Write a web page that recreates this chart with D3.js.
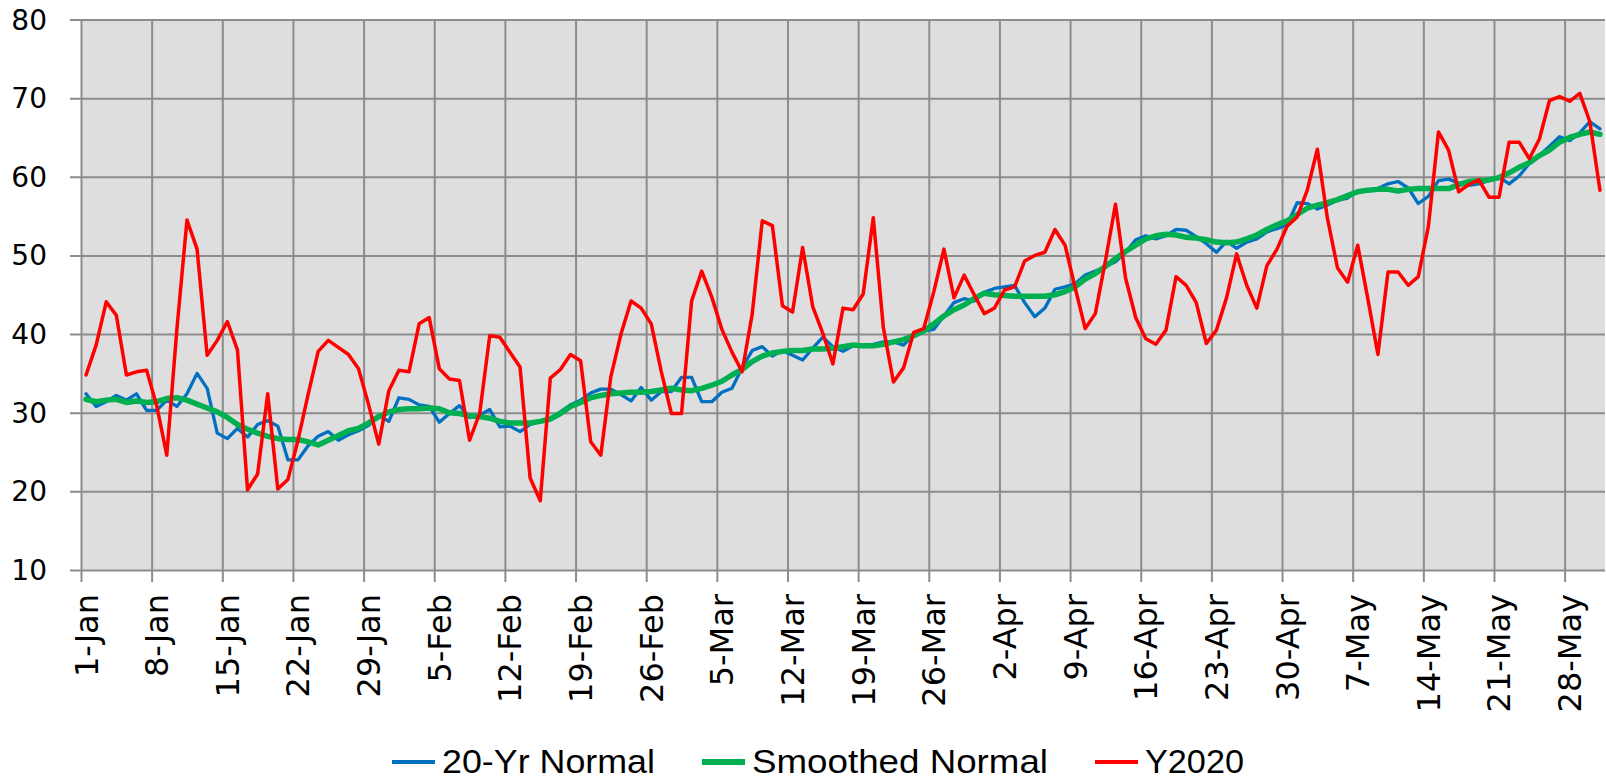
<!DOCTYPE html>
<html>
<head>
<meta charset="utf-8">
<script src="https://cdn.jsdelivr.net/npm/d3@7"></script>
<style>
  body { margin: 0; background: #fff; }
  svg { display: block; }
</style>
</head>
<body>
<svg id="chart"></svg>
<script>
// daily values, 1-Jan .. 31-May
const normal20 = [
  32.4, 30.8, 31.4, 32.2, 31.6, 32.4, 30.3, 30.3, 31.6, 30.8, 32.4, 35.0, 33.1, 27.4, 26.7, 28.0, 26.9, 28.5, 29.0, 28.3,
  24.0, 24.0, 25.8, 27.0, 27.6, 26.5, 27.2, 27.7, 28.4, 29.7, 28.9, 31.9, 31.7, 31.0, 30.8, 28.8, 29.9, 30.9, 29.4, 29.7,
  30.4, 28.2, 28.3, 27.6, 28.5, 28.9, 29.3, 30.1, 31.0, 31.6, 32.5, 33.0, 33.0, 32.3, 31.5, 33.2, 31.6, 32.7, 32.7, 34.5,
  34.5, 31.4, 31.4, 32.6, 33.1, 35.7, 37.9, 38.4, 37.2, 37.9, 37.3, 36.7, 38.2, 39.6, 38.4, 37.8, 38.5, 38.4, 38.7, 39.0,
  39.0, 38.6, 39.9, 40.4, 40.6, 42.3, 44.0, 44.5, 44.2, 45.3, 45.8, 46.0, 46.2, 44.0, 42.2, 43.3, 45.7, 46.0, 46.4, 47.5,
  48.0, 48.6, 49.2, 50.4, 52.0, 52.5, 52.1, 52.5, 53.3, 53.2, 52.4, 51.5, 50.4, 51.8, 50.9, 51.7, 52.1, 53.0, 53.4, 53.9,
  56.7, 56.6, 55.9, 56.4, 57.0, 57.3, 58.2, 58.2, 58.5, 59.1, 59.4, 58.6, 56.6, 57.5, 59.5, 59.7, 59.2, 58.9, 59.1, 59.5,
  60.0, 59.1, 60.1, 61.7, 62.7, 63.9, 65.1, 64.6, 65.6, 67.0, 66.1
]

const smoothedNormal = [
  31.7, 31.4, 31.6, 31.7, 31.3, 31.5, 31.3, 31.4, 31.8, 31.9, 31.6, 31.1, 30.6, 30.1, 29.4, 28.5, 27.9, 27.4, 27.0, 26.7,
  26.6, 26.6, 26.3, 25.9, 26.5, 27.1, 27.7, 28.0, 28.7, 29.5, 30.1, 30.4, 30.5, 30.5, 30.6, 30.5, 30.0, 29.9, 29.6, 29.5,
  29.3, 28.9, 28.7, 28.7, 28.7, 28.9, 29.2, 29.9, 30.8, 31.3, 31.9, 32.2, 32.4, 32.5, 32.6, 32.6, 32.7, 32.9, 33.1, 32.9,
  32.8, 33.1, 33.5, 34.0, 34.8, 35.5, 36.5, 37.2, 37.6, 37.8, 37.9, 37.9, 38.1, 38.1, 38.2, 38.4, 38.6, 38.5, 38.5, 38.7,
  39.0, 39.3, 39.8, 40.4, 41.3, 42.3, 43.1, 43.7, 44.5, 45.2, 45.0, 44.9, 44.8, 44.8, 44.8, 44.8, 45.0, 45.4, 46.0, 47.0,
  47.7, 48.6, 49.6, 50.5, 51.3, 52.1, 52.5, 52.7, 52.6, 52.3, 52.2, 52.0, 51.7, 51.6, 51.7, 52.1, 52.6, 53.3, 53.9, 54.4,
  55.2, 56.0, 56.4, 56.7, 57.1, 57.6, 58.1, 58.3, 58.4, 58.4, 58.2, 58.4, 58.5, 58.5, 58.5, 58.5, 59.0, 59.4, 59.5, 59.6,
  59.9, 60.5, 61.2, 61.8, 62.7, 63.4, 64.4, 65.0, 65.4, 65.7, 65.4
]

const y2020 = [
  34.8, 38.6, 44.1, 42.4, 34.8, 35.2, 35.4, 30.9, 24.6, 40.6, 54.5, 50.8, 37.3, 39.2, 41.6, 38.0, 20.2, 22.2, 32.4, 20.3,
  21.5, 26.5, 32.3, 37.8, 39.2, 38.3, 37.4, 35.6, 31.0, 26.0, 32.8, 35.4, 35.2, 41.3, 42.1, 35.6, 34.3, 34.1, 26.5, 29.9,
  39.8, 39.6, 37.7, 35.8, 21.7, 18.8, 34.4, 35.5, 37.4, 36.6, 26.3, 24.6, 34.6, 40.0, 44.2, 43.3, 41.3, 35.2, 29.9, 29.9,
  44.2, 48.0, 44.7, 40.6, 37.7, 35.2, 42.5, 54.4, 53.8, 43.6, 42.8, 51.0, 43.5, 40.1, 36.2, 43.3, 43.1, 45.1, 54.8, 40.8,
  33.9, 35.7, 40.2, 40.7, 45.4, 50.8, 44.6, 47.5, 45.0, 42.6, 43.3, 45.6, 46.0, 49.3, 50.0, 50.4, 53.3, 51.3, 45.9, 40.7,
  42.6, 49.3, 56.5, 47.1, 42.1, 39.4, 38.7, 40.5, 47.3, 46.2, 44.0, 38.8, 40.5, 44.6, 50.2, 46.2, 43.3, 48.7, 50.8, 53.7,
  54.9, 58.3, 63.5, 54.7, 48.4, 46.6, 51.3, 44.5, 37.4, 47.9, 47.9, 46.2, 47.3, 53.7, 65.7, 63.4, 58.1, 59.0, 59.6, 57.4,
  57.4, 64.4, 64.4, 62.3, 64.8, 69.7, 70.2, 69.6, 70.6, 67.0, 58.3
]

const tickLabels = ['1-Jan', '8-Jan', '15-Jan', '22-Jan', '29-Jan', '5-Feb', '12-Feb', '19-Feb', '26-Feb', '5-Mar', '12-Mar',
  '19-Mar', '26-Mar', '2-Apr', '9-Apr', '16-Apr', '23-Apr', '30-Apr', '7-May', '14-May', '21-May', '28-May']
const yTicks = [10, 20, 30, 40, 50, 60, 70, 80]

const seriesNames = ['20-Yr Normal', 'Smoothed Normal', 'Y2020']
const seriesColours = ['#0070C0', '#00B050', '#FF0000']
const seriesWidths = [3.3, 5.5, 3.5]

var width = 1606,
  height = 782
var plot = { left: 81, right: 1605, top: 19.5, bottom: 570 }

var parseDay = d3.utcParse('%d-%b') // year 1900, no 29-Feb
var firstDay = parseDay(tickLabels[0])
var days = d3.utcDay.range(firstDay, d3.utcDay.offset(firstDay, y2020.length))
var tickDates = tickLabels.map((t) => parseDay(t))

var x = d3
  .scaleUtc()
  .domain([firstDay, d3.utcDay.offset(firstDay, days.length)])
  .range([plot.left, plot.right])

var y = d3.scaleLinear().domain([10, 80]).range([plot.bottom, plot.top])

var svg = d3.select('#chart').attr('width', width).attr('height', height)

// plot background
svg
  .append('rect')
  .attr('x', x.range()[0])
  .attr('y', y(80))
  .attr('width', x.range()[1] - x.range()[0])
  .attr('height', y(10) - y(80))
  .attr('fill', '#DEDEDE')

var gridColour = '#8C8C8C'

// horizontal gridlines + left ticks
var yAxis = svg
  .append('g')
  .attr('transform', 'translate(' + plot.left + ',0)')
  .call(d3.axisLeft(y).tickValues(yTicks).tickSize(11).tickPadding(23))
yAxis.select('.domain').remove()
yAxis
  .selectAll('.tick line')
  .attr('x2', -11)
  .attr('x1', plot.right - plot.left)
  .attr('stroke', gridColour)
  .attr('stroke-width', 2)
yAxis
  .selectAll('.tick text')
  .attr('font-family', 'DejaVu Sans, Verdana, sans-serif')
  .attr('font-size', 28)
  .attr('fill', '#000')
  .attr('dy', '0.34em')

// vertical gridlines + bottom ticks
var xAxis = svg
  .append('g')
  .attr('transform', 'translate(0,' + plot.bottom + ')')
  .call(d3.axisBottom(x).tickValues(tickDates).tickFormat(d3.utcFormat('%-d-%b')).tickSize(12))
xAxis.select('.domain').remove()
xAxis
  .selectAll('.tick line')
  .attr('y1', -(plot.bottom - plot.top))
  .attr('y2', 12)
  .attr('stroke', gridColour)
  .attr('stroke-width', 2)
xAxis
  .selectAll('.tick text')
  .attr('font-family', 'DejaVu Sans, Verdana, sans-serif')
  .attr('font-size', 32)
  .attr('fill', '#000')
  .attr('text-anchor', 'end')
  .attr('x', 0)
  .attr('y', 0)
  .attr('dy', null)
  .attr('transform', 'translate(16,24) rotate(-90)')

// series lines, points sit in the middle of each day
var line = d3
  .line()
  .x((d, i) => x(d3.utcHour.offset(days[i], 12)))
  .y((d) => y(d))

var allSeries = [normal20, smoothedNormal, y2020]
svg
  .append('g')
  .selectAll('path')
  .data(allSeries)
  .join('path')
  .attr('d', (d) => line(d))
  .attr('fill', 'none')
  .attr('stroke', (d, i) => seriesColours[i])
  .attr('stroke-width', (d, i) => seriesWidths[i])
  .attr('stroke-linejoin', 'round')
  .attr('stroke-linecap', 'round')

// legend
var legendWidths = [213, 296, 99] // text widths in the original
var legend = svg.append('g').attr('transform', 'translate(0,762)')
var lx = 392
seriesNames.forEach(function (name, i) {
  legend
    .append('line')
    .attr('x1', lx)
    .attr('x2', lx + 43)
    .attr('y1', 0)
    .attr('y2', 0)
    .attr('stroke', seriesColours[i])
    .attr('stroke-width', i === 1 ? 6 : 4)
  legend
    .append('text')
    .attr('x', lx + 50)
    .attr('y', 11)
    .attr('font-family', 'Liberation Sans Narrow, Liberation Sans, Arial, sans-serif')
    .attr('font-size', 34)
    .attr('fill', '#000')
    .attr('textLength', legendWidths[i])
    .attr('lengthAdjust', 'spacingAndGlyphs')
    .text(name)
  lx += 50 + legendWidths[i] + 47
})
</script>
</body>
</html>
